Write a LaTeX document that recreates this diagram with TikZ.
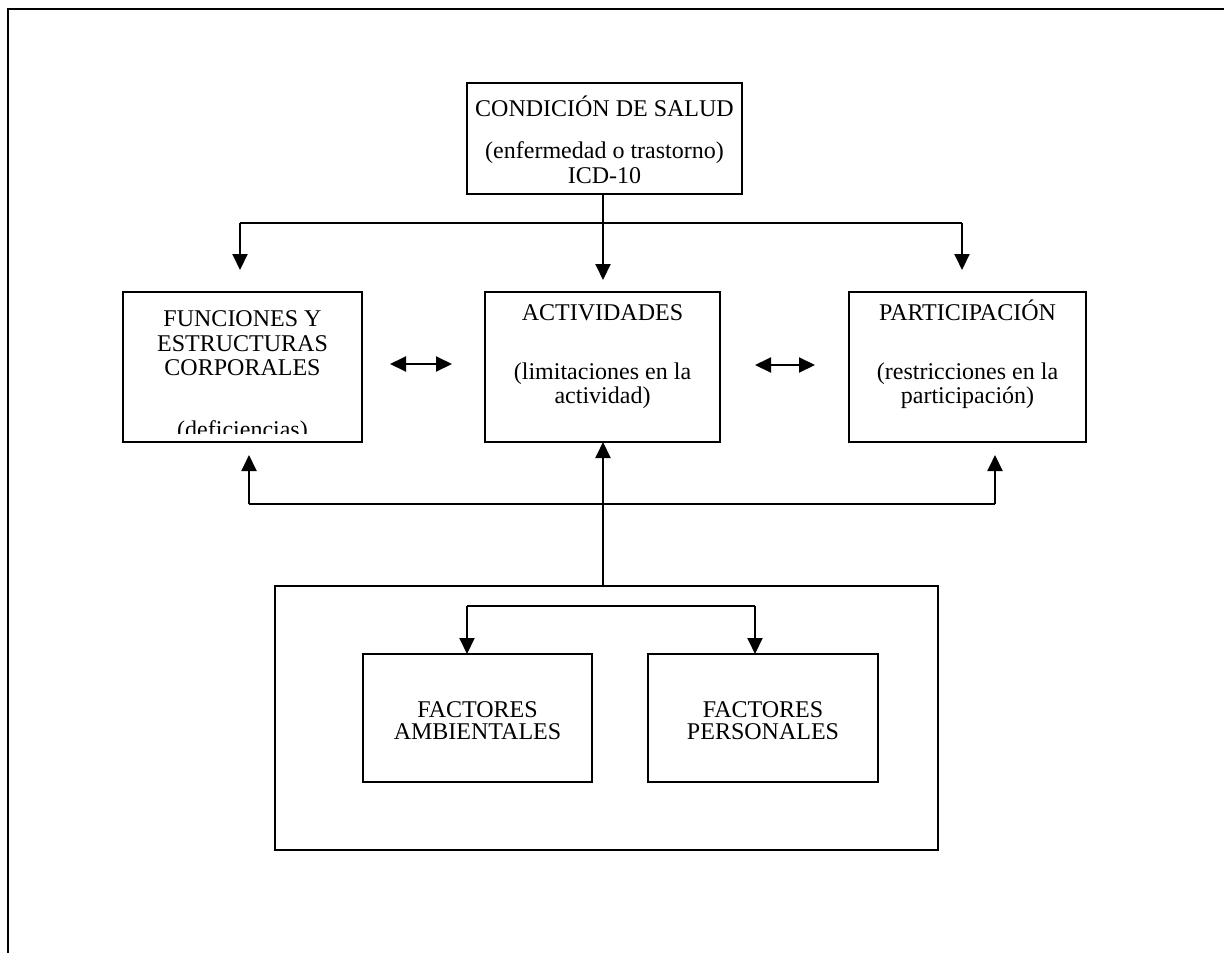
\documentclass[tikz,border=0pt]{standalone}
\usepackage{fontspec}
\setmainfont{Liberation Serif}
\usetikzlibrary{arrows.meta,calc}
\begin{document}
\begin{tikzpicture}[x=0.5pt,y=-0.5pt,
  box/.style={draw,line width=0.9pt,inner sep=0pt,outer sep=0pt},
  conn/.style={line width=1pt},
  arr/.style={conn,-{Triangle[length=8pt,width=7.5pt]}},
  darr/.style={conn,{Triangle[length=8pt,width=7.5pt]}-{Triangle[length=8pt,width=7.5pt]}},
  txt/.style={anchor=base,inner sep=0pt,font=\fontsize{12pt}{14pt}\selectfont}]
\useasboundingbox (0,0) rectangle (1224,953);
% page frame
\draw[line width=1.3pt] (1224,9) -- (8,9) -- (8,953);
% boxes
\node[box,minimum width=137.5pt,minimum height=55.5pt] (cond) at (604.5,138.5) {};
\node[box,minimum width=119.5pt,minimum height=75pt] (funct) at (242.5,367) {};
\node[box,minimum width=117.5pt,minimum height=75pt] (activ) at (602.5,367) {};
\node[box,minimum width=118.5pt,minimum height=75pt] (part) at (967.5,367) {};
\node[box,minimum width=331.5pt,minimum height=132pt] (big) at (606.5,718) {};
\node[box,minimum width=114.5pt,minimum height=64pt] (fa) at (477.5,718) {};
\node[box,minimum width=115pt,minimum height=64pt] (fp) at (763,718) {};
% texts
\node[txt] (c1) at (604.5,116) {CONDICIÓN DE SALUD};
\node[txt] (c2) at (604.5,158) {(enfermedad o trastorno)};
\node[txt] (c3) at (604.5,183) {ICD-10};
\node[txt] (f1) at (242.5,326) {FUNCIONES Y};
\node[txt] (f2) at (242.5,351) {ESTRUCTURAS};
\node[txt] (f3) at (242.5,375) {CORPORALES};
\begin{scope}
\clip (123,292) rectangle (362,433);
\node[txt] (f4) at (242.5,437) {(deficiencias)};
\end{scope}
\node[txt] (a1) at (602.5,320) {ACTIVIDADES};
\node[txt] (a2) at (602.5,379) {(limitaciones en la};
\node[txt] (a3) at (602.5,403) {actividad)};
\node[txt] (p1) at (967.5,320) {PARTICIPACIÓN};
\node[txt] (p2) at (967.5,379) {(restricciones en la};
\node[txt] (p3) at (967.5,403) {participación)};
\node[txt] (fa1) at (477.5,717) {FACTORES};
\node[txt] (fa2) at (477.5,739) {AMBIENTALES};
\node[txt] (fp1) at (763,717) {FACTORES};
\node[txt] (fp2) at (763,739) {PERSONALES};
% top distribution
\coordinate (jc) at (603,223);
\coordinate (jl) at (240,223);
\coordinate (jr) at (962,223);
\draw[conn] (jl) -- (jr);
\draw[arr] (cond.south -| jc) -- ($(activ.north -| jc)+(0,-12)$);
\draw[arr] (jl) -- ($(funct.north -| jl)+(0,-22)$);
\draw[arr] (jr) -- ($(part.north -| jr)+(0,-22)$);
% double arrows
\draw[darr] ($(funct.east)+(28,-3)$) -- ($(activ.west)+(-33,-3)$);
\draw[darr] ($(activ.east)+(35,-2)$) -- ($(part.west)+(-34,-2)$);
% feedback from contextual factors
\coordinate (bc) at (603,504);
\coordinate (bl) at (249,504);
\coordinate (br) at (995,504);
\draw[arr] (big.north -| bc) -- (activ.south -| bc);
\draw[conn] (bl) -- (br);
\draw[arr] (bl) -- ($(funct.south -| bl)+(0,13)$);
\draw[arr] (br) -- ($(part.south -| br)+(0,13)$);
% inner distribution
\coordinate (il) at (467,606);
\coordinate (ir) at (755,606);
\draw[conn] (il) -- (ir);
\draw[arr] (il) -- (fa.north -| il);
\draw[arr] (ir) -- (fp.north -| ir);
\end{tikzpicture}
\end{document}
